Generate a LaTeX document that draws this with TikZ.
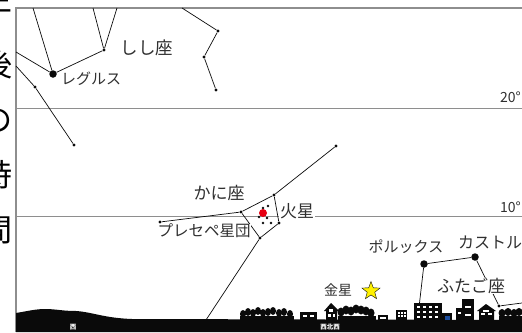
\documentclass[tikz,border=0pt]{standalone}
\usepackage{fontspec}
\setmainfont{Noto Sans CJK JP}
\usetikzlibrary{positioning,shapes.geometric}
\definecolor{ink}{HTML}{0A0A0A}
\definecolor{rule}{HTML}{8E8E8E}
\definecolor{mars}{HTML}{E60012}
\definecolor{venus}{HTML}{FFF100}
\definecolor{lamp}{HTML}{1D4E9E}

\tikzset{
  altline/.style={draw=rule, line width=1.1pt},
  figline/.style={draw=ink, line width=0.7pt},
  dimstar/.style={circle, fill=ink, inner sep=0pt, minimum size=3.2pt},
  brightstar/.style={circle, fill=ink, inner sep=0pt, minimum size=7.5pt},
  skytext/.style={font=\fontsize{17}{17}\selectfont, inner sep=1pt, text=ink!85},
  smalltext/.style={font=\fontsize{15}{15}\selectfont, inner sep=1pt, text=ink!85},
  groundtext/.style={font=\fontsize{6.5}{6.5}\selectfont\bfseries, text=white, inner sep=0pt},
  win/.style={fill=white},
  tree/.style={fill=ink}
}

\begin{document}
\begin{tikzpicture}[x=1pt, y=-1pt]
  \useasboundingbox (0,0) rectangle (522,332);

  % side title, cut by the page edge
  \node[font=\fontsize{31}{31}\selectfont, align=center, inner sep=0pt, anchor=north]
    (side) at (-3,-5) {午\\[24pt]後\\[24pt]の\\[24pt]時\\[24pt]間};

  % frame and altitude lines
  \draw[altline] (16,332) -- (16,8) -- (522,8);
  \draw[altline, line width=0.8pt] (16,108) -- (522,108);
  \draw[altline, line width=0.8pt] (16,216) -- (522,216);
  \node[smalltext, font=\fontsize{14}{14}\selectfont, anchor=east] (alt20) at (522,97) {20°};
  \node[smalltext, font=\fontsize{14}{14}\selectfont, anchor=east] (alt10) at (522,207) {10°};

  % Leo
  \node[brightstar] (regulus) at (53,74) {};
  \node[dimstar] (leoB) at (104,50) {};
  \node[dimstar] (leoC) at (35,87) {};
  \node[dimstar] (leoD) at (74,145) {};
  \node[dimstar] (leoE) at (218,31) {};
  \node[dimstar] (leoF) at (204,57) {};
  \node[dimstar] (leoG) at (216,90) {};
  \coordinate (leoTop1) at (33,8);
  \coordinate (leoTop2) at (93,8);
  \coordinate (leoTop3) at (117,8);
  \coordinate (leoTop4) at (182,8);
  \coordinate (leoEdge1) at (16,52);
  \coordinate (leoEdge2) at (16,66);
  \draw[figline] (leoTop1) -- (regulus) -- (leoB) -- (leoTop2);
  \draw[figline] (leoB) -- (leoTop3);
  \draw[figline] (leoEdge1) -- (regulus);
  \draw[figline] (leoEdge2) -- (leoC) -- (leoD);
  \draw[figline] (leoTop4) -- (leoE) -- (leoF) -- (leoG);
  \node[skytext, font=\fontsize{17.5}{17.5}\selectfont] (leo) at (147,48) {しし座};
  \node[smalltext, anchor=west] (regname) at (60,79) {レグルス};

  % Cancer and the Beehive
  \node[dimstar] (cncA) at (336,146) {};
  \node[dimstar] (cncB) at (274,195) {};
  \node[dimstar] (cncC) at (241,212) {};
  \node[dimstar] (cncD) at (279,223) {};
  \node[dimstar] (cncE) at (260,238) {};
  \node[dimstar] (cncF) at (160,222) {};
  \coordinate (cncG) at (206,320);
  \draw[figline] (cncA) -- (cncB) -- (cncC) -- (cncF);
  \draw[figline] (cncB) -- (cncD) -- (cncE) -- (cncC);
  \draw[figline] (cncE) -- (cncG);
  \foreach \sx/\sy in {263/208, 268/206, 259/217, 267/218, 263/223, 271/223}
    \fill[ink] (\sx,\sy) circle (1.3pt);
  \node[circle, fill=mars, inner sep=0pt, minimum size=8pt] (mars) at (263,213) {};
  \node[skytext] (cancer) at (219,193) {かに座};
  \node[skytext, fill=white] (marsname) at (297,211) {火星};
  \node[smalltext, font=\fontsize{15.5}{15.5}\selectfont, fill=white, inner sep=0pt]
    (beehive) at (204,231) {プレセペ星団};

  % Gemini
  \node[brightstar] (pollux) at (424,264) {};
  \node[brightstar] (castor) at (475,257) {};
  \node[dimstar] (gemA) at (499,306) {};
  \coordinate (gemB) at (418,316);
  \coordinate (gemC) at (522,303);
  \draw[figline] (gemB) -- (pollux) -- (castor) -- (gemA) -- (gemC);
  \node[skytext, fill=white, inner ysep=0pt] (gemini) at (471,286) {ふたご座};
  \node[smalltext] (polname) at (406,247) {ポルックス};
  \node[smalltext, font=\fontsize{16}{16}\selectfont] (casname) at (490,242) {カストル};

  % Venus
  \node[star, star points=5, star point ratio=2.4, fill=venus, draw=ink,
        line width=0.4pt, minimum size=19pt, inner sep=0pt] (venus) at (371,291) {};
  \node[smalltext, font=\fontsize{14}{14}\selectfont] (venusname) at (338,290) {金星};

  % ground, houses and trees
  \fill[ink] (16,313) .. controls (28,311) and (36,309) .. (45,309)
    .. controls (56,309) and (62,311) .. (76,311)
    .. controls (92,312) and (104,318) .. (132,319) -- (522,320)
    -- (522,332) -- (16,332) -- cycle;
  \fill[tree] (240,316) rectangle (294,321);
  \foreach \tx/\ty in {243/314, 248/312, 253/313, 258/311, 263/313, 268/312,
                       273/311, 279/313, 284/312, 290/314}
    \fill[tree] (\tx,\ty) ellipse (3pt and 4pt);
  \fill[tree] (338,316) rectangle (376,321);
  \foreach \tx/\ty in {341/312, 346/310, 351/311, 356/309, 361/310, 366/311,
                       371/313}
    \fill[tree] (\tx,\ty) ellipse (3.5pt and 4.5pt);
  \fill[tree] (499,316) rectangle (522,321);
  \foreach \tx/\ty in {502/313, 508/312, 514/313, 519/312}
    \fill[tree] (\tx,\ty) ellipse (3.5pt and 4pt);

  \fill[ink] (300,312) rectangle (317,320);
  \fill[win] (303,315) rectangle (307,317);
  \fill[win] (310,315) rectangle (314,317);

  \fill[ink] (324,311) -- (331,303) -- (339,311) -- (337,311) -- (337,320)
    -- (326,320) -- (326,311) -- cycle;
  \fill[win] (329,309) rectangle (333,312);
  \fill[win] (328,314) rectangle (331,317);
  \fill[win] (333,314) rectangle (335,317);

  \fill[ink] (378,315) rectangle (388,320);
  \fill[win] (380,317) rectangle (386,319);
  \fill[ink] (396,310) rectangle (407,320);
  \foreach \wx in {398,401,404}
    \foreach \wy in {312,315}
      \fill[win] (\wx,\wy) rectangle ++(2,2);

  \fill[ink] (414,303) rectangle (442,320);
  \fill[ink] (442,313) rectangle (452,320);
  \foreach \wx in {417,423,429,435}
    \foreach \wy in {306,311,316}
      \fill[win] (\wx,\wy) rectangle ++(3,2);
  \fill[lamp] (445,316) rectangle (450,320);

  \fill[ink] (462,299) rectangle (474,320);
  \fill[ink] (456,308) rectangle (462,320);
  \fill[win] (458,312) rectangle (461,314);
  \fill[win] (465,306) rectangle (471,308);
  \fill[win] (465,314) rectangle (471,316);

  \fill[ink] (477,311) -- (486,304) -- (496,311) -- (494,311) -- (494,320)
    -- (479,320) -- (479,311) -- cycle;
  \fill[win] (481,313) rectangle (485,315);
  \fill[win] (488,313) rectangle (492,315);
  \fill[win] (483,310) rectangle (489,311.5);

  \node[groundtext] (west) at (73,327) {西};
  \node[groundtext] (wnw) at (330,327) {西北西};
\end{tikzpicture}
\end{document}
